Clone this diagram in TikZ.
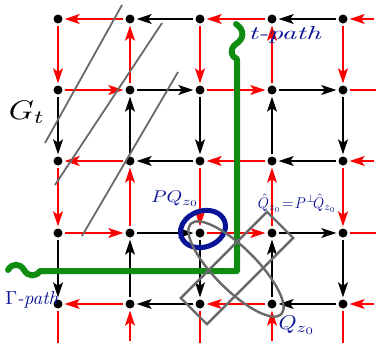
\documentclass[tikz,border=0pt]{standalone}
\usetikzlibrary{arrows.meta}
\definecolor{gridred}{RGB}{255,0,0}
\definecolor{pathgreen}{RGB}{16,140,16}
\definecolor{inkblue}{RGB}{10,20,150}
\definecolor{hatchgray}{RGB}{105,105,105}
\begin{document}
\begin{tikzpicture}[x=1bp,y=-1bp,
  dot/.style={circle,fill=black,inner sep=0pt,minimum size=9bp},
  myhead/.style={-{Stealth[length=15bp,width=10bp,inset=3.5bp]}},
  redarr/.style={draw=gridred,line width=1.5bp,myhead,shorten >=2bp,shorten <=2bp},
  blkarr/.style={draw=black,line width=1.5bp,myhead,shorten >=2bp,shorten <=2bp},
  redln/.style={draw=gridred,line width=1.5bp,shorten <=2bp},
  hatch/.style={draw=hatchgray,line width=1.8bp},
  grayshape/.style={draw=hatchgray,line width=2.4bp},
  greenpath/.style={draw=pathgreen,line width=6bp,line cap=round,line join=round},
  bluering/.style={draw=inkblue,line width=5bp},
  ink/.style={text=inkblue,inner sep=0pt},
]
\useasboundingbox (0,0) rectangle (376,343);
% nodes
\foreach \c/\x in {0/58,1/130,2/200,3/272,4/343}{
  \foreach \r/\y in {0/19,1/90,2/161,3/233,4/304}{
    \node[dot] (n\c\r) at (\x,\y) {};
  }
  \coordinate (B\c) at (\x,343);
}
\foreach \r/\y in {0/19,1/90,2/161,3/233,4/304}{
  \coordinate (R\r) at (376,\y);
}
% horizontal edges
\foreach \r in {0,2,4}{
  \draw[redarr] (n1\r) -- (n0\r);
  \draw[blkarr] (n2\r) -- (n1\r);
  \draw[redarr] (n3\r) -- (n2\r);
  \draw[blkarr] (n4\r) -- (n3\r);
  \draw[redarr] (R\r) -- (n4\r);
}
\foreach \r in {1,3}{
  \draw[redarr] (n0\r) -- (n1\r);
  \draw[blkarr] (n1\r) -- (n2\r);
  \draw[redarr] (n2\r) -- (n3\r);
  \draw[blkarr] (n3\r) -- (n4\r);
  \draw[redln] (n4\r) -- (R\r);
}
% vertical edges
\foreach \c in {0,2,4}{
  \draw[redarr] (n\c0) -- (n\c1);
  \draw[blkarr] (n\c1) -- (n\c2);
  \draw[redarr] (n\c2) -- (n\c3);
  \draw[blkarr] (n\c3) -- (n\c4);
  \draw[redln] (n\c4) -- (B\c);
}
\foreach \c in {1,3}{
  \draw[redarr] (n\c1) -- (n\c0);
  \draw[blkarr] (n\c2) -- (n\c1);
  \draw[redarr] (n\c3) -- (n\c2);
  \draw[blkarr] (n\c4) -- (n\c3);
  \draw[redarr] (B\c) -- (n\c4);
}
% hatching of G_t
\draw[hatch] (122,5) -- (45,143);
\draw[hatch] (162,23) -- (55,185);
\draw[hatch] (178,72) -- (82,236);
% green path
\draw[greenpath] (236,24) .. controls (245,30) and (244,39) .. (236,44)
  .. controls (229,49) and (231,57) .. (237,59) -- (237,271) -- (40,271)
  .. controls (36,277) and (28,277) .. (24,270)
  .. controls (20,263) and (12,263) .. (8,270);
% blue ring
\draw[bluering, rotate around={20:(203,229)}] (203,229) ellipse [x radius=23, y radius=18];
% gray shapes
\draw[grayshape, rotate around={-45:(236,269)}] (236,269) ellipse [x radius=64, y radius=21];
\draw[grayshape, rotate around={45:(237,268)}] (176,249.5) rectangle (298,286.5);
% labels
\node[inner sep=0pt] (gt) at (27,112) {\scalebox{3.2}[2.7]{$G_t$}};
\node[ink] (tpath) at (285,35) {\scalebox{2.9}[1.9]{\textit{t-path}}};
\node[ink] (rpath) at (32,300) {\scalebox{1.9}[1.9]{$\Gamma$\textit{-path}}};
\node[ink] (pq) at (175,199) {\scalebox{2.0}[1.7]{$PQ_{z_0}$}};
\node[ink] (qhat) at (297,203) {\scalebox{1.42}[1.55]{$\hat Q_{z_0}\!=\!P^{\perp}\!\hat Q_{z_0}$}};
\node[ink] (qz) at (297,325) {\scalebox{2.3}[2.0]{$Q_{z_0}$}};
\end{tikzpicture}
\end{document}
